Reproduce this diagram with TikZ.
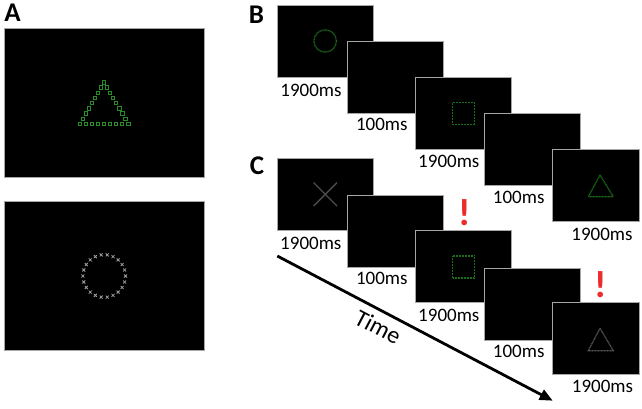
\documentclass[tikz,border=0pt]{standalone}
\usepackage{fontspec}
\setmainfont{Carlito}
\usetikzlibrary{arrows.meta}
\definecolor{stimgreen}{RGB}{40,140,40}
\definecolor{dkgreen}{RGB}{25,110,25}
\definecolor{alertred}{RGB}{235,45,45}
\tikzset{
  screen/.style={fill=black, draw=gray!70, line width=0.7pt, minimum width=96pt, minimum height=72pt, inner sep=0pt},
  bigscreen/.style={fill=black, draw=gray!70, line width=0.7pt, minimum width=200pt, minimum height=149pt, inner sep=0pt},
  dur/.style={font=\fontsize{19}{22}\selectfont, inner sep=0pt},
  panel/.style={font=\fontsize{27}{30}\selectfont\bfseries, inner sep=0pt},
  alert/.style={font=\fontsize{38}{40}\selectfont\bfseries, text=alertred, inner sep=0pt},
  dotline/.style={line width=1.3pt, dash pattern=on 0.9pt off 0.6pt},
}
\begin{document}
\begin{tikzpicture}[x=1pt,y=-1pt]
\useasboundingbox (0,0) rectangle (642,409);
% Panel A
\node[panel] (lA) at (12.5,13) {A};
\node[bigscreen] (A1) at (104,103) {};
\node[bigscreen] (A2) at (104,275.5) {};
\foreach \i in {0,...,8} {
  \draw[stimgreen, line width=0.8pt] ({104-3.04*\i-1.7},{82.3+5.21*\i-1.7}) rectangle ++(3.4,3.4);
  \draw[stimgreen, line width=0.8pt] ({104+3.04*\i-1.7},{82.3+5.21*\i-1.7}) rectangle ++(3.4,3.4);
  \draw[stimgreen, line width=0.8pt] ({79.7+6.07*\i-1.7},{124-1.7}) rectangle ++(3.4,3.4);
}
\foreach \k in {0,...,21} {
  \draw[gray!75, line width=0.8pt] ({104.2+21.3*cos(360*\k/22)-1.5},{276+21.3*sin(360*\k/22)-1.5}) -- ++(3,3)
    ({104.2+21.3*cos(360*\k/22)-1.5},{276+21.3*sin(360*\k/22)+1.5}) -- ++(3,-3);
}
% Panel B
\node[panel] (lB) at (256.5,14.5) {B};
\node[screen] (B1) at (325.2,41) {};
\node[dur] (tB1) at (311,90) {1900ms};
\node[screen] (B2) at (395.2,77.3) {};
\node[dur] (tB2) at (381.8,124.3) {100ms};
\node[screen] (B3) at (463.7,113) {};
\node[dur] (tB3) at (448.8,161.7) {1900ms};
\node[screen] (B4) at (532.7,149.5) {};
\node[dur] (tB4) at (518.7,197.7) {100ms};
\node[screen, minimum width=87pt] (B5) at (596,185.5) {};
\node[dur] (tB5) at (602,234) {1900ms};
\draw[dkgreen, dotline] (B1) circle (11.2);
\draw[dkgreen, dotline] (452.7,102.7) rectangle (474.7,124.7);
\draw[dkgreen, dotline] (600,175) -- (613.3,196.7) -- (588.3,196.7) -- cycle;
% Panel C
\node[panel] (lC) at (257,166) {C};
\node[screen] (C1) at (325.2,194.5) {};
\node[dur] (tC1) at (310.8,243.3) {1900ms};
\node[screen] (C2) at (395.2,231.5) {};
\node[dur] (tC2) at (381.8,278.3) {100ms};
\node[screen] (C3) at (463.7,266.8) {};
\node[dur] (tC3) at (448.8,315) {1900ms};
\node[screen] (C4) at (532.7,304) {};
\node[dur] (tC4) at (518.7,351) {100ms};
\node[screen, minimum width=87pt] (C5) at (596,338.7) {};
\node[dur] (tC5) at (602.5,386.7) {1900ms};
\draw[gray!60!black, line width=1.3pt] (313.6,182.6) -- (337,206) (313.6,206) -- (337,182.6);
\draw[dkgreen, dotline] (452.7,256) rectangle (474.7,278);
\draw[gray!70!black, dotline] (600,328.3) -- (613.3,350.7) -- (588.3,350.7) -- cycle;
\node[alert] (ex1) at (465,213) {!};
\node[alert] (ex2) at (601,284.5) {!};
% Time arrow
\coordinate (ts) at (277.3,256);
\coordinate (te) at (552.7,400.7);
\draw[line width=2.8pt, -{Triangle[length=13pt,width=11pt]}] (ts) -- (te);
\node[font=\fontsize{24}{26}\selectfont, rotate=-27.7, inner sep=0pt] (time) at (378,327) {Time};
\end{tikzpicture}
\end{document}
